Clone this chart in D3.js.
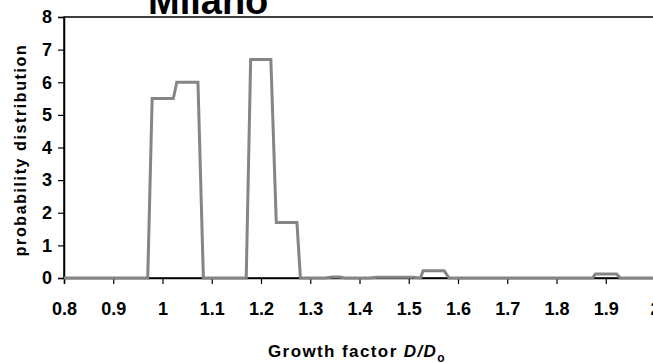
<!DOCTYPE html>
<html><head><meta charset="utf-8">
<script src="https://cdn.jsdelivr.net/npm/d3@7"></script>
<style>body{margin:0;background:#fff;overflow:hidden}svg{display:block;font-family:"Liberation Sans",Arial,sans-serif}</style>
</head><body><svg id="c" width="653" height="363"></svg>
<script>
const xTicks = [0.8,0.9,1,1.1,1.2,1.3,1.4,1.5,1.6,1.7,1.8,1.9,2];
const yTicks = [0,1,2,3,4,5,6,7,8];
const growth = [0.8,0.97,0.979,1.022,1.029,1.072,1.083,1.17,1.179,1.22,1.231,1.273,1.28,1.33,1.345,1.36,1.37,1.42,1.435,1.51,1.524,1.529,1.572,1.582,1.873,1.879,1.922,1.93,2.0];
const prob   = [0,0,5.5,5.5,6.0,6.0,0,0,6.7,6.7,1.7,1.7,0,0,0.03,0.03,0,0,0.02,0.02,0,0.22,0.22,0,0,0.12,0.12,0,0];

const svg = d3.select("#c");
const L=64, R=655, T=17, B=278;
const x = d3.scaleLinear().domain([0.8,2]).range([L,R]);
const y = d3.scaleLinear().domain([0,8]).range([B,T]);

svg.append("rect").attr("x",L).attr("y",T).attr("width",R-L).attr("height",B-T)
  .attr("fill","none").attr("stroke","#000").attr("stroke-width",1.5);

const fmt = d => d===1?"1":d===2?"2":d3.format(".1f")(d);
const xa = svg.append("g").attr("transform",`translate(0,${B})`)
  .call(d3.axisBottom(x).tickValues(xTicks).tickFormat(fmt).tickSize(6).tickPadding(18));
const ya = svg.append("g").attr("transform",`translate(${L},0)`)
  .call(d3.axisLeft(y).tickValues(yTicks).tickSize(6).tickPadding(6));
[xa,ya].forEach(a=>{
  a.attr("font-size",null).attr("font-family",null);
  a.selectAll("path").attr("stroke","#000").attr("stroke-width",1.5);
  a.selectAll("line").attr("stroke","#000").attr("stroke-width",1.2);
  a.selectAll("text").attr("fill","#000").style("font-size","18px").style("font-weight","bold")
   .style("font-family","'Liberation Sans',Arial,sans-serif");
});

svg.append("path").datum(growth.map((g,i)=>[g,prob[i]]))
  .attr("d",d3.line().x(d=>x(d[0])).y(d=>y(d[1])))
  .attr("fill","none").attr("stroke","#858585").attr("stroke-width",3).attr("stroke-linejoin","miter");

svg.append("text").attr("x",148).attr("y",14).attr("font-size","38px").attr("font-weight","bold").text("Milano");

svg.append("text").attr("transform","translate(26,150) rotate(-90)").attr("text-anchor","middle")
  .attr("font-size","16px").attr("font-weight","bold").attr("letter-spacing","1.6px").text("probability distribution");

const xl = svg.append("text").attr("x",268).attr("y",357).attr("font-size","17px").attr("font-weight","bold").attr("letter-spacing","1.4px");
xl.append("tspan").text("Growth factor ");
xl.append("tspan").attr("font-style","italic").text("D/D");
xl.append("tspan").attr("dy",5).attr("font-size","12px").text("o");
</script></body></html>
